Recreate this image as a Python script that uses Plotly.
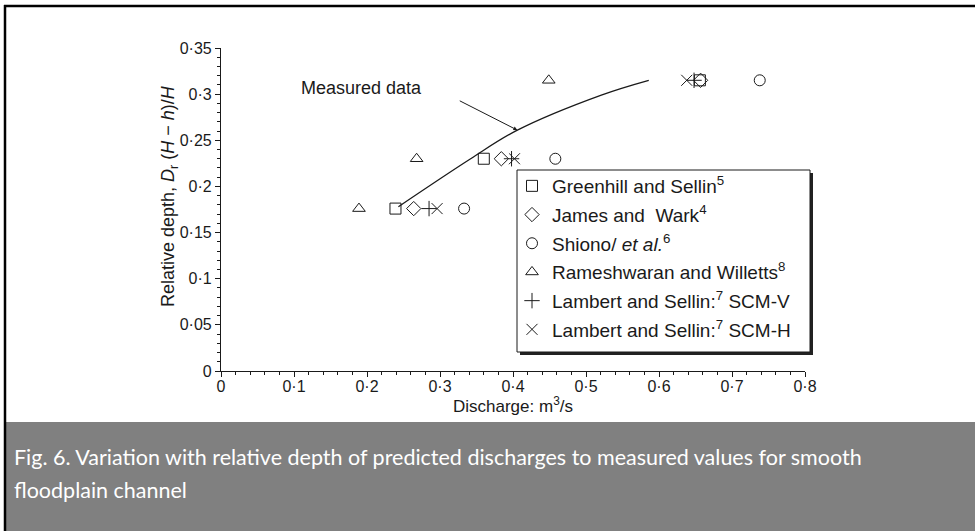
import plotly.graph_objects as go

# ---- data ----
depth_levels = [0.176, 0.230, 0.315]
greenhill_q = [0.239, 0.360, 0.656]
james_q = [0.264, 0.384, 0.657]
shiono_q = [0.333, 0.458, 0.738]
rameshwaran_q = [0.189, 0.268, 0.449]
lambert_v_q = [0.285, 0.398, 0.648]
lambert_h_q = [0.296, 0.402, 0.638]

measured_q = [0.243, 0.342, 0.406, 0.521, 0.586]
measured_d = [0.178, 0.230, 0.261, 0.299, 0.315]

x_tickvals = [0, 0.1, 0.2, 0.3, 0.4, 0.5, 0.6, 0.7, 0.8]
x_ticktext = ["0", "0·1", "0·2", "0·3", "0·4", "0·5", "0·6", "0·7", "0·8"]
y_tickvals = [0, 0.05, 0.1, 0.15, 0.2, 0.25, 0.3, 0.35]
y_ticktext = ["0", "0·05", "0·1", "0·15", "0·2", "0·25", "0·3", "0·35"]

series = [
    ("Greenhill and Sellin<sup>5</sup>", greenhill_q, "square-open"),
    ("James and  Wark<sup>4</sup>", james_q, "diamond-open"),
    ("Shiono/ <i>et al.</i><sup>6</sup>", shiono_q, "circle-open"),
    ("Rameshwaran and Willetts<sup>8</sup>", rameshwaran_q, "triangle-up-open"),
    ("Lambert and Sellin:<sup>7</sup> SCM-V", lambert_v_q, "cross-thin-open"),
    ("Lambert and Sellin:<sup>7</sup> SCM-H", lambert_h_q, "x-thin-open"),
]

FONT = "Liberation Sans, Arial, sans-serif"
INK = "#1a1a1a"

fig = go.Figure()

fig.add_trace(go.Scatter(
    x=measured_q, y=measured_d, mode="lines",
    line=dict(color=INK, width=1.3, shape="spline", smoothing=1.0),
    showlegend=False, hoverinfo="skip",
))

for i, (name, qs, sym) in enumerate(series):
    fig.add_trace(go.Scatter(
        x=qs, y=depth_levels, mode="markers", name=name,
        legendgroup=f"g{i}",
        marker=dict(symbol=sym, size=11, color=INK,
                    line=dict(color=INK, width=1)),
    ))

L, R, T, B = 221, 975 - 805, 48, 531 - 371
W_PLOT = 975 - L - R
H_PLOT = 531 - T - B


def px(xp):
    return (xp - L) / W_PLOT


def py(yp):
    return (531 - B - yp) / H_PLOT


shapes = [
    # caption band
    dict(type="rect", xref="paper", yref="paper",
         x0=px(5), x1=px(990), y0=py(422), y1=py(545),
         fillcolor="#808080", line=dict(width=0), layer="below"),
    # top frame line
    dict(type="line", xref="paper", yref="paper",
         x0=px(4), x1=px(980), y0=py(6), y1=py(6),
         line=dict(color="black", width=2.5)),
    # left frame line
    dict(type="line", xref="paper", yref="paper",
         x0=px(5), x1=px(5), y0=py(5), y1=py(540),
         line=dict(color="black", width=2.5)),
    # legend box shadow
    dict(type="rect", xref="paper", yref="paper",
         x0=px(520), x1=px(813), y0=py(173), y1=py(355),
         fillcolor="#222", line=dict(width=0), layer="above"),
    # legend box
    dict(type="rect", xref="paper", yref="paper",
         x0=px(517), x1=px(810), y0=py(170), y1=py(352),
         fillcolor="white", line=dict(color=INK, width=1), layer="above"),
]

annotations = [
    dict(text="Measured data", x=0.193, y=0.3066, xref="x", yref="y",
         showarrow=False, font=dict(family=FONT, size=18, color=INK)),
    dict(text="", x=0.406, y=0.261, ax=0.325, ay=0.2936,
         xref="x", yref="y", axref="x", ayref="y",
         showarrow=True, arrowhead=2, arrowsize=0.8, arrowwidth=1,
         arrowcolor=INK),
    dict(text="Discharge: m<sup>3</sup>/s", x=px(513), y=py(405),
         xref="paper", yref="paper", showarrow=False,
         xanchor="center", yanchor="middle",
         font=dict(family=FONT, size=17, color=INK)),
    dict(text="Relative depth, <i>D</i><sub>r</sub> (<i>H</i> − <i>h</i>)/<i>H</i>",
         x=px(169), y=py(196), xref="paper", yref="paper", showarrow=False,
         textangle=-90, xanchor="center", yanchor="middle",
         font=dict(family=FONT, size=18, color=INK)),
    dict(text="Fig. 6. Variation with relative depth of predicted discharges to measured values for smooth",
         x=px(12), y=py(457), xref="paper", yref="paper", xanchor="left",
         yanchor="middle", showarrow=False,
         font=dict(family="Lato, sans-serif", size=21.5, color="white")),
    dict(text="floodplain channel",
         x=px(12), y=py(490), xref="paper", yref="paper", xanchor="left",
         yanchor="middle", showarrow=False,
         font=dict(family="Lato, sans-serif", size=21.5, color="white")),
]

fig.update_layout(
    width=975, height=531,
    margin=dict(l=L, r=R, t=T, b=B),
    paper_bgcolor="white", plot_bgcolor="white",
    font=dict(family=FONT, size=16, color=INK),
    showlegend=True,
    legend=dict(x=px(512), y=py(167), xanchor="left", yanchor="top",
                bgcolor="rgba(0,0,0,0)", borderwidth=0,
                font=dict(family=FONT, size=19, color=INK),
                tracegroupgap=1, itemwidth=30),
    shapes=shapes,
    annotations=annotations,
    xaxis=dict(range=[0, 0.8], tickvals=x_tickvals, ticktext=x_ticktext,
               showgrid=False, zeroline=False, showline=True,
               linecolor=INK, linewidth=1.2, ticks="outside", ticklen=5,
               tickcolor=INK, tickfont=dict(size=16),
               minor=dict(dtick=0.02, ticks="outside", ticklen=3, tickcolor=INK),
               ticklabelstandoff=-4),
    yaxis=dict(range=[0, 0.35], tickvals=y_tickvals, ticktext=y_ticktext,
               showgrid=False, zeroline=False, showline=True,
               linecolor=INK, linewidth=1.2, ticks="outside", ticklen=5,
               tickcolor=INK, tickfont=dict(size=16),
               minor=dict(dtick=0.01, ticks="outside", ticklen=3, tickcolor=INK)),
)

fig.write_html("out.html",
               config={"displayModeBar": False},
               post_script="document.body.style.margin='0';document.body.style.overflow='hidden';")
